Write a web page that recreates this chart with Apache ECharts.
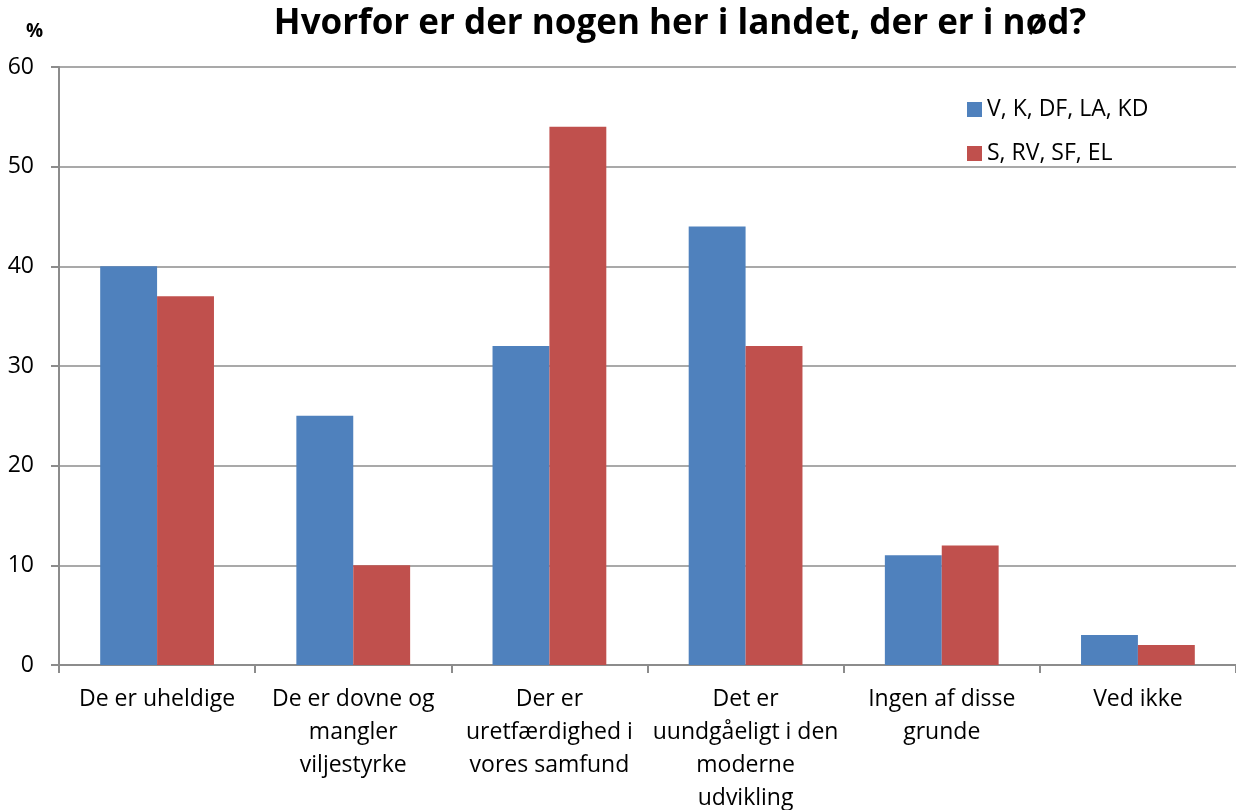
<!DOCTYPE html>
<html>
<head>
<meta charset="utf-8">
<script src="https://cdn.jsdelivr.net/npm/echarts@6/dist/echarts.min.js"></script>
<style>
  html, body { margin: 0; padding: 0; background: #fff; }
  #chart { width: 1236px; height: 810px; }
</style>
</head>
<body>
<div id="chart"></div>
<script>
// categories and values
const categories = [
  'De er uheldige',
  'De er dovne og\nmangler\nviljestyrke',
  'Der er\nuretfærdighed i\nvores samfund',
  'Det er\nuundgåeligt i den\nmoderne\nudvikling',
  'Ingen af disse\ngrunde',
  'Ved ikke'
]
const blueValues = [40, 25, 32, 44, 11, 3]
const redValues = [37, 10, 54, 32, 12, 2]
const seriesNames = ['V, K, DF, LA, KD', 'S, RV, SF, EL']

const font = '"Open Sans", "Liberation Sans", sans-serif'
const axisColor = '#8c8c8c'

const myChart = echarts.init(document.getElementById('chart'))
myChart.setOption({
  animation: false,
  textStyle: { fontFamily: font },
  title: [
    {
      text: 'Hvorfor er der nogen her i landet, der er i nød?',
      left: 675,
      top: 2,
      textAlign: 'center',
      textStyle: { fontSize: 35, fontWeight: 'bold', color: '#000', fontFamily: font }
    },
    {
      text: '%',
      left: 21,
      top: 17,
      textStyle: { fontSize: 19, fontWeight: 'bold', color: '#000', fontFamily: font }
    }
  ],
  legend: {
    orient: 'vertical',
    left: 962,
    top: 93,
    itemWidth: 15,
    itemHeight: 15,
    itemGap: 21,
    icon: 'rect',
    textStyle: { fontSize: 23, color: '#000', fontFamily: font }
  },
  grid: {
    left: 59,
    right: 0,
    top: 67,
    bottom: 145,
    outerBoundsMode: 'none'
  },
  xAxis: {
    type: 'category',
    data: categories,
    axisLine: { lineStyle: { color: axisColor, width: 2 } },
    axisTick: { show: true, length: 8, lineStyle: { color: axisColor, width: 2 } },
    axisLabel: {
      color: '#000',
      fontSize: 23,
      lineHeight: 33,
      margin: 18,
      interval: 0,
      fontFamily: font
    }
  },
  yAxis: {
    type: 'value',
    min: 0,
    max: 60,
    interval: 10,
    axisLine: { show: true, lineStyle: { color: axisColor, width: 2 } },
    axisTick: { show: true, length: 8, lineStyle: { color: axisColor, width: 2 } },
    splitLine: { lineStyle: { color: axisColor, width: 1.5 } },
    axisLabel: { color: '#000', fontSize: 23, margin: 25, fontFamily: font }
  },
  series: [
    {
      name: seriesNames[0],
      type: 'bar',
      data: blueValues,
      barGap: '0%',
      barCategoryGap: '42%',
      itemStyle: { color: '#4f81bd' }
    },
    {
      name: seriesNames[1],
      type: 'bar',
      data: redValues,
      itemStyle: { color: '#c0504d' }
    }
  ]
})
</script>
</body>
</html>
